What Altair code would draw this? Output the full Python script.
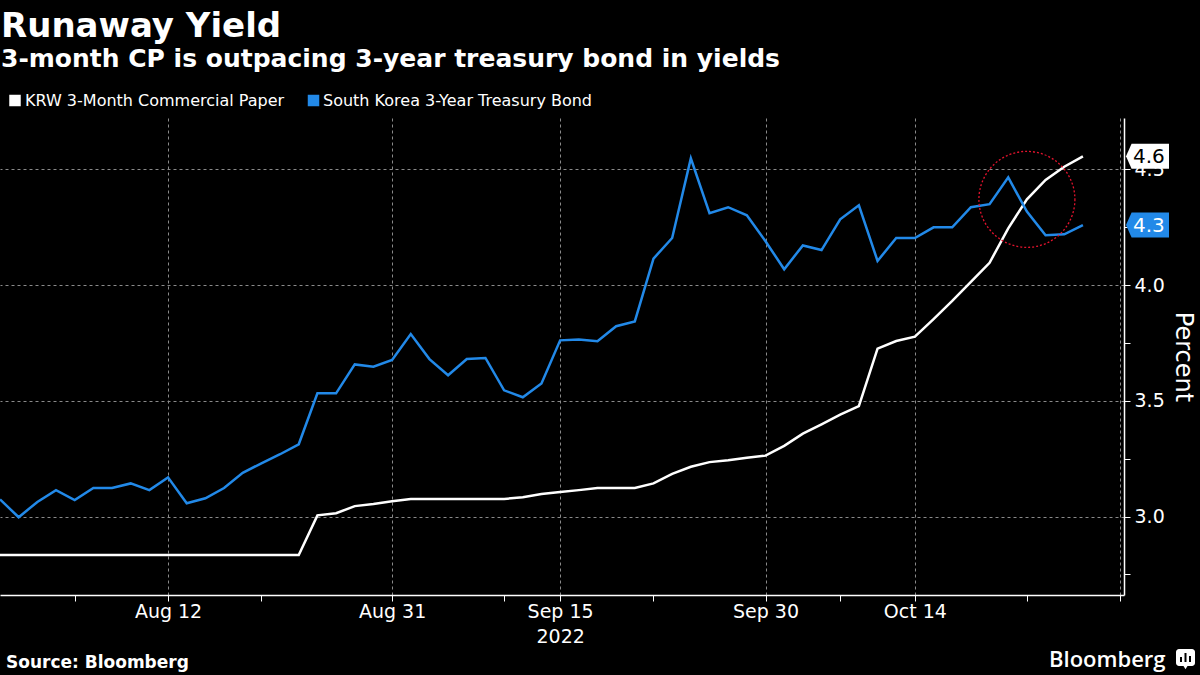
import altair as alt
import pandas as pd

# ---------------- data ----------------
trading_days = [
    "2022-08-01", "2022-08-02", "2022-08-03", "2022-08-04", "2022-08-05",
    "2022-08-08", "2022-08-09", "2022-08-10", "2022-08-11", "2022-08-12",
    "2022-08-16", "2022-08-17", "2022-08-18", "2022-08-19", "2022-08-22",
    "2022-08-23", "2022-08-24", "2022-08-25", "2022-08-26", "2022-08-29",
    "2022-08-30", "2022-08-31", "2022-09-01", "2022-09-02", "2022-09-05",
    "2022-09-06", "2022-09-07", "2022-09-08", "2022-09-13", "2022-09-14",
    "2022-09-15", "2022-09-16", "2022-09-19", "2022-09-20", "2022-09-21",
    "2022-09-22", "2022-09-23", "2022-09-26", "2022-09-27", "2022-09-28",
    "2022-09-29", "2022-09-30", "2022-10-04", "2022-10-05", "2022-10-06",
    "2022-10-07", "2022-10-11", "2022-10-12", "2022-10-13", "2022-10-14",
    "2022-10-17", "2022-10-18", "2022-10-19", "2022-10-20", "2022-10-21",
    "2022-10-24", "2022-10-25", "2022-10-26", "2022-10-27",
]

cp_yield = [
    2.834, 2.834, 2.834, 2.834, 2.834, 2.834, 2.834, 2.834, 2.834, 2.834,
    2.834, 2.834, 2.834, 2.834, 2.834, 2.834, 2.834, 3.005, 3.014, 3.045,
    3.054, 3.066, 3.076, 3.076, 3.076, 3.076, 3.076, 3.076, 3.083, 3.097,
    3.106, 3.114, 3.123, 3.123, 3.123, 3.143, 3.184, 3.215, 3.235, 3.243,
    3.254, 3.263, 3.305, 3.358, 3.398, 3.440, 3.477, 3.725, 3.758, 3.777,
    3.853, 3.931, 4.014, 4.096, 4.245, 4.370, 4.454, 4.511, 4.556,
]

bond_yield = [
    3.074, 2.997, 3.063, 3.114, 3.071, 3.123, 3.123, 3.143, 3.114, 3.169,
    3.057, 3.079, 3.123, 3.189, 3.230, 3.269, 3.312, 3.532, 3.532, 3.657,
    3.647, 3.676, 3.788, 3.680, 3.610, 3.680, 3.685, 3.545, 3.515, 3.575,
    3.761, 3.765, 3.757, 3.822, 3.843, 4.114, 4.203, 4.547, 4.310, 4.336,
    4.301, 4.189, 4.068, 4.171, 4.151, 4.284, 4.344, 4.104, 4.203, 4.203,
    4.249, 4.249, 4.336, 4.349, 4.465, 4.317, 4.215, 4.219, 4.259,
]

series_names = ["KRW 3-Month Commercial Paper", "South Korea 3-Year Treasury Bond"]
series_colors = ["#ffffff", "#2289e8"]

major_tick_dates = ["2022-08-12", "2022-08-31", "2022-09-15", "2022-09-30", "2022-10-14"]
major_tick_labels = ["Aug 12", "Aug 31", "Sep 15", "Sep 30", "Oct 14"]
minor_tick_dates = ["2022-08-05", "2022-08-22", "2022-09-08", "2022-09-22", "2022-10-07", "2022-10-24"]
year_label = "2022"
year_label_date = "2022-09-15"
x_axis_end = 60  # trading-day index of the right edge (Oct 31)

y_major_ticks = [3.0, 3.5, 4.0, 4.5]
y_minor_ticks = [2.75, 3.25, 3.75, 4.25]
y_domain = [2.661, 4.7214]

highlight_date = "2022-10-24"
highlight_value = 4.37

title_text = "Runaway Yield"
subtitle_text = "3-month CP is outpacing 3-year treasury bond in yields"
source_text = "Source: Bloomberg"
brand_text = "Bloomberg"
y_title = "Percent"

# ---------------- build tables ----------------
rows = []
for i, d in enumerate(trading_days):
    rows.append({"idx": i, "date": d, "value": cp_yield[i], "series": series_names[0]})
    rows.append({"idx": i, "date": d, "value": bond_yield[i], "series": series_names[1]})
df = pd.DataFrame(rows)

last_idx = len(trading_days) - 1
last_df = pd.DataFrame({
    "series": series_names,
    "value": [cp_yield[last_idx], bond_yield[last_idx]],
})

hl_df = pd.DataFrame({"idx": [trading_days.index(highlight_date)], "value": [highlight_value]})

major_idx = [trading_days.index(d) for d in major_tick_dates]
minor_idx = [trading_days.index(d) for d in minor_tick_dates]
grid_idx = major_idx + [x_axis_end]
x_values = sorted(major_idx + minor_idx + [x_axis_end])

label_expr = ""
for i, lab in zip(major_idx, major_tick_labels):
    if trading_days[i] == year_label_date:
        label_expr += f"datum.value == {i} ? ['{lab}', '{year_label}'] : "
    else:
        label_expr += f"datum.value == {i} ? '{lab}' : "
label_expr += "''"

FONT = "DejaVu Sans"

color_scale = alt.Scale(domain=series_names, range=series_colors)
x_scale = alt.Scale(domain=[0, x_axis_end + 0.2], nice=False, zero=False)
y_scale = alt.Scale(domain=y_domain, nice=False, zero=False)

x_axis = alt.Axis(
    values=x_values,
    labelExpr=label_expr,
    title=None,
    grid=True,
    gridOpacity={"condition": {"test": f"indexof({grid_idx}, datum.value) >= 0", "value": 1}, "value": 0},
    gridColor="#8a8a8a",
    gridDash=[3, 3],
    gridWidth=1,
    domainColor="#ffffff",
    domainWidth=1.5,
    tickColor="#ffffff",
    tickSize=6,
    tickWidth=1,
    labelColor="#ffffff",
    labelFont=FONT,
    labelFontSize=19,
    labelPadding=1,
    labelLineHeight=25,
    labelOverlap=False,
    labelFlush=False,
)

y_test = "indexof([3, 3.5, 4, 4.5], datum.value) >= 0"
y_axis = alt.Axis(
    orient="right",
    values=sorted(y_major_ticks + y_minor_ticks),
    labelExpr=f"{y_test} ? format(datum.value, '.1f') : ''",
    title=y_title,
    titleColor="#ffffff",
    titleFont=FONT,
    titleFontSize=24,
    titleFontWeight="normal",
    titlePadding=6,
    grid=True,
    gridOpacity={"condition": {"test": y_test, "value": 1}, "value": 0},
    gridColor="#8a8a8a",
    gridDash=[3, 3],
    gridWidth=1,
    domainColor="#ffffff",
    domainWidth=1.5,
    tickColor="#ffffff",
    tickSize=6,
    tickWidth=1,
    labelColor="#ffffff",
    labelFont=FONT,
    labelFontSize=19,
    labelPadding=4,
    labelOverlap=False,
    labelFlush=False,
)

lines = alt.Chart(df).mark_line(strokeWidth=2.5, clip=True).encode(
    x=alt.X("idx:Q", scale=x_scale, axis=x_axis),
    y=alt.Y("value:Q", scale=y_scale, axis=y_axis),
    color=alt.Color("series:N", scale=color_scale, legend=None),
    order="idx:Q",
)

circle = alt.Chart(hl_df).mark_point(
    shape="circle", size=96 * 96, filled=False, stroke="#e3132d",
    strokeWidth=1.3, strokeDash=[2, 2], opacity=1,
).encode(x="idx:Q", y="value:Q")

box_shape = "M -1 0 L -0.74 -0.58 L 1 -0.58 L 1 0.58 L -0.74 0.58 Z"
value_boxes = alt.Chart(last_df).mark_point(
    shape=box_shape, size=43 * 43, filled=True, opacity=1, clip=False,
).encode(
    x=alt.value(1147.5),
    y="value:Q",
    color=alt.Color("series:N", scale=color_scale, legend=None),
)
value_text = alt.Chart(last_df).mark_text(
    align="left", baseline="middle", font=FONT, fontSize=20, clip=False, dy=1,
).encode(
    x=alt.value(1133),
    y="value:Q",
    text=alt.Text("value:Q", format=".1f"),
    color=alt.condition(f"datum.series == '{series_names[0]}'", alt.value("#000000"), alt.value("#ffffff")),
)

one = pd.DataFrame({"k": [0]})


def label(text, x, y, size, weight="normal", font=FONT, align="left", color="#ffffff"):
    return alt.Chart(one).mark_text(
        align=align, baseline="alphabetic", font=font, fontSize=size,
        fontWeight=weight, color=color,
    ).encode(x=alt.value(x), y=alt.value(y), text=alt.value(text))


def swatch(x, y, color):
    return alt.Chart(one).mark_square(size=132, filled=True, opacity=1, color=color).encode(
        x=alt.value(x), y=alt.value(y)
    )


legend_marks = [
    swatch(15, -17.5, series_colors[0]),
    label(series_names[0], 25, -12, 16),
    swatch(313.5, -17.5, series_colors[1]),
    label(series_names[1], 323, -12, 16),
]

title = label(title_text, 1, -81, 34, "bold")
subtitle = label(subtitle_text, 1, -51, 25, "bold")
source = label(source_text, 6, 550, 17, "bold")
brand = label(brand_text, 1049, 549, 22, 600, font="Open Sans")

logo = alt.Chart(one).mark_rect(color="#ffffff", cornerRadius=3).encode(
    x=alt.value(1176), x2=alt.value(1195), y=alt.value(531), y2=alt.value(548)
)
logo_tip = alt.Chart(one).mark_point(shape="triangle-down", size=30, filled=True, opacity=1, color="#ffffff").encode(
    x=alt.value(1185.5), y=alt.value(549)
)
logo_bars = [
    alt.Chart(one).mark_rule(color="#000000", strokeWidth=2).encode(
        x=alt.value(bx), y=alt.value(by), y2=alt.value(544)
    )
    for bx, by in [(1181, 539), (1185.5, 535), (1190, 538)]
]

chart = alt.layer(
    lines, circle, value_boxes, value_text,
    *legend_marks, title, subtitle, source, brand, logo, logo_tip, *logo_bars,
).properties(
    width=1124,
    height=477,
    padding={"left": 0, "top": 118, "right": 76, "bottom": 80},
    autosize=alt.AutoSizeParams(type="none"),
    background="#000000",
).configure_view(stroke=None)

chart.save("out.html", embed_options={"renderer": "svg", "actions": False})
